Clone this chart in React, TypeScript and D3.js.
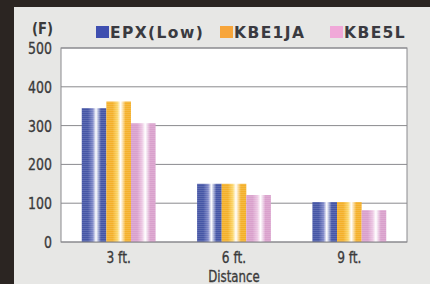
import React from 'react';
import * as d3 from 'd3';

const distances = ['3 ft.', '6 ft.', '9 ft.'];
const seriesNames = ['EPX(Low)', 'KBE1JA', 'KBE5L'];
const epxLow = [345, 150, 103];
const kbe1ja = [362, 150, 103];
const kbe5l = [306, 121, 82];
const yTicks = [0, 100, 200, 300, 400, 500];

const seriesValues = [epxLow, kbe1ja, kbe5l];
const barColors = [
  { dark: '#4656a6', mid: '#7f88c8', key: '#3f4fb0' },
  { dark: '#f4b02a', mid: '#fbd66a', key: '#f7a53a' },
  { dark: '#d9a0cc', mid: '#ecc6e2', key: '#f0a8d8' },
];

const W = 430;
const H = 284;
const margin = { top: 48, right: 23, bottom: 42, left: 61 };

// condensed label: draw with a horizontal squeeze around its anchor point
function Cond({ x, y, anchor, size, children, dy }: any) {
  return (
    <text transform={`translate(${x},${y}) scale(0.76,1)`} dy={dy} textAnchor={anchor}
      fontFamily="'DejaVu Sans', sans-serif" fontSize={size} fill="#3a3a3a"
      stroke="#3a3a3a" strokeWidth={0.35}>{children}</text>
  );
}

export default function App() {
  const plotW = W - margin.left - margin.right;
  const plotH = H - margin.top - margin.bottom;

  const x0 = d3.scaleBand().domain(distances).range([0, plotW]).paddingInner(0.36).paddingOuter(0.18);
  const x1 = d3.scaleBand().domain(seriesNames).range([0, x0.bandwidth()]);
  const y = d3.scaleLinear().domain([0, 500]).range([plotH, 0]);

  const legendX = [96, 220, 330];

  return (
    <svg width={W} height={H} style={{ position: 'absolute', left: 0, top: 0 }}>
      <defs>
        {barColors.map((c, i) => (
          <linearGradient key={i} id={`g${i}`} x1="0" x2="1" y1="0" y2="0">
            <stop offset="0%" stopColor={c.dark} />
            <stop offset="25%" stopColor={c.dark} />
            <stop offset="45%" stopColor={c.mid} />
            <stop offset="58%" stopColor="#ffffff" />
            <stop offset="78%" stopColor={c.dark} />
            <stop offset="100%" stopColor={c.dark} />
          </linearGradient>
        ))}
        <pattern id="scan" width="4" height="2" patternUnits="userSpaceOnUse">
          <rect width="4" height="1" fill="#ffffff" opacity="0.12" />
        </pattern>
      </defs>
      <rect width={W} height={H} fill="#e7e7e5" />
      <rect width={W} height={7} fill="#2b2522" />
      <rect width={14} height={H} fill="#2b2522" />

      <text transform="translate(53,34) scale(0.85,1)" textAnchor="end" fontFamily="'DejaVu Sans', sans-serif"
        fontWeight="bold" fontSize={15.5} fill="#3a3a3a">(F)</text>

      {seriesNames.map((s, i) => (
        <g key={s} transform={`translate(${legendX[i]},0)`}>
          <rect x={0} y={26} width={13} height={12} fill={barColors[i].key} />
          <text x={14} y={38} fontFamily="'DejaVu Sans', sans-serif" fontWeight="bold" fontSize={15.5}
            letterSpacing={1.4} fill="#3a3a40">{s}</text>
        </g>
      ))}

      <g transform={`translate(${margin.left},${margin.top})`}>
        <rect width={plotW} height={plotH} fill="#ffffff" />
        {yTicks.map(t => (
          <g key={t}>
            <line x1={0} x2={plotW} y1={y(t)} y2={y(t)} stroke="#8a8a8e" strokeWidth={1} />
            <Cond x={-9} y={y(t)} dy="0.36em" anchor="end" size={16.5}>{t}</Cond>
          </g>
        ))}
        {distances.map((d, di) => (
          <g key={d} transform={`translate(${x0(d)},0)`}>
            {seriesNames.map((s, si) => {
              const v = seriesValues[si][di];
              return (
                <g key={s}>
                  <rect x={x1(s)} y={y(v)} width={x1.bandwidth()} height={plotH - y(v)} fill={`url(#g${si})`} />
                  <rect x={x1(s)} y={y(v)} width={x1.bandwidth()} height={plotH - y(v)} fill="url(#scan)" />
                </g>
              );
            })}
            <Cond x={x0.bandwidth() / 2} y={plotH + 21} anchor="middle" size={16}>{d}</Cond>
          </g>
        ))}
        <rect width={plotW} height={plotH} fill="none" stroke="#8a8a8e" strokeWidth={1} />
        <Cond x={(x0(distances[1]) ?? 0) + x0.bandwidth() / 2} y={plotH + 40} anchor="middle" size={15.5}>Distance</Cond>
      </g>
    </svg>
  );
}
